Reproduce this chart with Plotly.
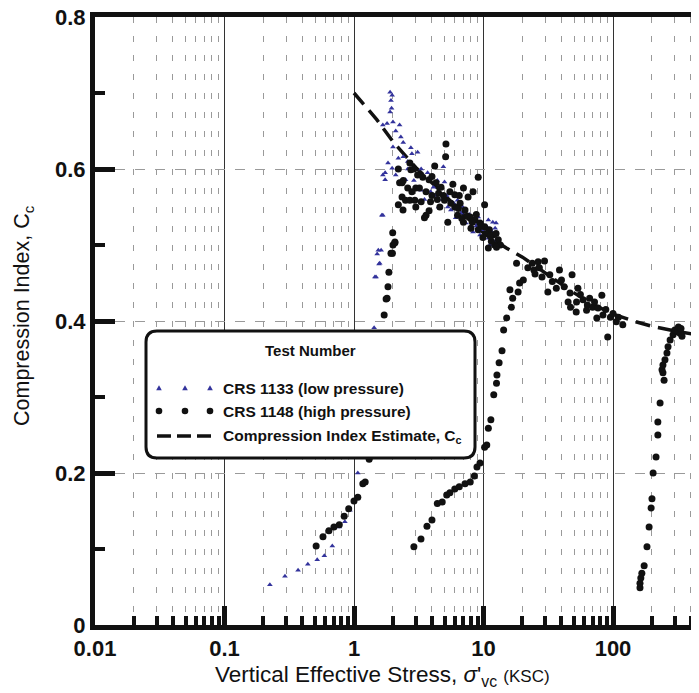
import plotly.graph_objects as go

# ---------------- data ----------------
# CRS 1133 (low pressure) - triangles
crs1133_x = [0.224, 0.293, 0.37, 0.44, 0.52, 0.59, 0.68, 0.77, 0.85, 0.93, 1.07,
             1.15, 1.25, 1.33,
             1.43, 1.48, 1.51, 1.56, 1.62, 1.64, 1.67, 1.74, 1.83, 1.67, 1.74,
             1.67, 1.90, 1.93, 1.90, 1.97, 2.0, 2.25, 2.3, 2.0, 2.75, 3.1, 2.2,
             2.1, 2.4, 2.5, 3.7, 4.1, 3.3, 5.0, 3.9, 4.5, 5.6, 6.1, 6.7, 7.3,
             8.3, 9.4, 10.9, 12.3, 11.9, 12.5, 4.9, 6.3, 9.1, 10.2, 10.9,
             1.97, 2.6, 2.9, 3.5, 4.2, 4.8, 5.3, 7.0, 7.8, 8.8, 11.5, 12.8,
             11.2, 9.8, 1.54, 1.58, 1.45,
             2.1, 2.4, 2.6, 2.8, 3.3, 1.8, 1.95, 4.4, 5.2, 5.9, 6.9, 8.0, 9.0,
             10.5, 11.8, 12.0]
crs1133_y = [0.053, 0.064, 0.072, 0.080, 0.086, 0.091, 0.104, 0.129, 0.136, 0.151, 0.200,
             0.24, 0.29, 0.34,
             0.391, 0.458, 0.488, 0.475, 0.493, 0.539, 0.539, 0.595, 0.608, 0.592, 0.586,
             0.658, 0.675, 0.690, 0.701, 0.697, 0.662, 0.658, 0.642, 0.629, 0.628, 0.622, 0.614,
             0.592, 0.616, 0.586, 0.595, 0.576, 0.572, 0.583, 0.570, 0.550, 0.546, 0.536, 0.542, 0.529,
             0.517, 0.513, 0.533, 0.522, 0.513, 0.529, 0.603, 0.559, 0.537, 0.513, 0.509,
             0.601, 0.600, 0.585, 0.560, 0.565, 0.560, 0.550, 0.545, 0.540, 0.525, 0.518, 0.505,
             0.500, 0.520, 0.493, 0.476, 0.458,
             0.650, 0.635, 0.610, 0.620, 0.600, 0.660, 0.680, 0.585, 0.565, 0.555, 0.550, 0.530, 0.528,
             0.525, 0.530, 0.505]

# CRS 1148 (high pressure) - dots
crs1148_x = [0.51, 0.576, 0.64, 0.70, 0.77, 0.84, 0.91, 1.0, 1.07, 1.17, 1.22, 1.31,
             1.4, 1.5, 1.6,
             1.71, 1.77, 1.80, 1.83, 1.86, 1.93, 1.98, 2.0, 2.07, 1.99, 2.07, 2.39, 2.35,
             2.2, 2.25, 2.35,
             5.13, 5.1, 4.2, 2.70, 2.75, 3.1, 3.4, 3.8, 4.3, 4.7, 5.5, 6.0, 7.0, 8.3, 9.1,
             2.5, 2.7, 2.95, 3.3, 3.6, 3.5, 4.5, 5.0, 6.0, 6.6, 7.2, 7.9, 8.6, 9.4, 10.2,
             11.1, 11.9, 13.0, 10.2, 5.3, 7.6, 4.6, 3.9, 6.3, 7.0, 8.0, 9.1, 3.0, 2.9,
             12.2, 13.5, 11.5, 12.6, 10.9,
             2.6, 2.8, 3.2, 3.6, 4.0, 4.4, 4.9, 5.6, 6.4, 6.8, 7.5, 8.2, 8.8, 9.6, 10.5,
             11.3, 12.5, 3.0, 3.8, 2.4, 2.2, 4.0, 5.8, 6.5, 9.9,
             2.9, 3.29, 3.66, 4.0, 4.4, 4.8, 5.2, 5.5, 6.0, 6.5, 7.2, 7.9, 8.5, 8.9, 9.4,
             10.2, 10.6, 10.9, 11.4, 12.0, 12.6, 12.7, 13.2, 13.9, 14.3, 15.1, 16.4, 16.8,
             16.0, 18.5, 19.0, 20.3, 18.0, 23.8, 26.4, 29.6, 24.5, 28.3, 32.5, 38.6, 40.0,
             31.4, 36.5, 48.3, 46.6, 53.6, 45.0, 52.3, 58.7, 63.4, 69.6, 62.5, 76.6, 82.0,
             83.6, 75.0, 95.5, 106, 119, 91.0, 52.0, 47.0, 22.0, 25.0, 27.0, 34.0, 42.0,
             56.0, 66.0, 72.0, 88.0, 100, 110,
             161.6, 161.6, 164, 167, 174, 183, 190, 197, 200, 204, 215, 222, 222, 231,
             248, 243, 239, 243, 252, 261, 266, 276, 291, 312, 329, 341, 300, 320, 335]
crs1148_y = [0.104, 0.116, 0.124, 0.129, 0.132, 0.143, 0.153, 0.163, 0.168, 0.186, 0.188, 0.218,
             0.26, 0.31, 0.36,
             0.408, 0.429, 0.430, 0.445, 0.464, 0.489, 0.489, 0.500, 0.503, 0.516, 0.504, 0.546, 0.563,
             0.553, 0.582, 0.582,
             0.633, 0.616, 0.604, 0.608, 0.599, 0.592, 0.589, 0.586, 0.582, 0.576, 0.570, 0.566, 0.575, 0.570, 0.589,
             0.559, 0.559, 0.559, 0.557, 0.539, 0.536, 0.568, 0.559, 0.550, 0.555, 0.546, 0.537, 0.533, 0.529, 0.524,
             0.520, 0.513, 0.507, 0.553, 0.530, 0.563, 0.550, 0.557, 0.539, 0.530, 0.522, 0.520, 0.575, 0.600,
             0.500, 0.500, 0.505, 0.497, 0.496,
             0.575, 0.570, 0.575, 0.570, 0.565, 0.560, 0.565, 0.555, 0.548, 0.535, 0.538, 0.530, 0.540, 0.525, 0.515,
             0.512, 0.515, 0.550, 0.545, 0.585, 0.600, 0.590, 0.580, 0.565, 0.510,
             0.103, 0.113, 0.130, 0.138, 0.160, 0.162, 0.171, 0.174, 0.179, 0.182, 0.186, 0.188, 0.196, 0.208, 0.213,
             0.234, 0.237, 0.259, 0.270, 0.303, 0.318, 0.329, 0.345, 0.361, 0.388, 0.404, 0.418, 0.430,
             0.441, 0.438, 0.450, 0.454, 0.476, 0.476, 0.478, 0.479, 0.467, 0.458, 0.461, 0.467, 0.454,
             0.438, 0.443, 0.461, 0.437, 0.443, 0.425, 0.425, 0.428, 0.421, 0.418, 0.414, 0.417, 0.434,
             0.408, 0.404, 0.405, 0.399, 0.395, 0.379, 0.412, 0.418, 0.470, 0.462, 0.470, 0.452, 0.445,
             0.435, 0.430, 0.425, 0.415, 0.410, 0.405,
             0.049, 0.055, 0.062, 0.068, 0.078, 0.103, 0.129, 0.154, 0.166, 0.200, 0.221, 0.250, 0.267, 0.292,
             0.322, 0.332, 0.336, 0.342, 0.349, 0.358, 0.366, 0.375, 0.382, 0.386, 0.384, 0.380, 0.388, 0.392, 0.390]

# Compression index estimate
est_x = [1, 1.5, 2, 3, 5, 7, 10, 15, 20, 30, 50, 70, 100, 150, 200, 300, 470]
est_y = [0.700, 0.665, 0.636, 0.602, 0.566, 0.540, 0.516, 0.496, 0.484, 0.463, 0.437,
         0.422, 0.409, 0.399, 0.393, 0.387, 0.381]

x_tick_vals = [0.01, 0.1, 1, 10, 100]
x_tick_text = ["0.01", "0.1", "1", "10", "100"]
y_tick_vals = [0, 0.2, 0.4, 0.6, 0.8]
y_tick_text = ["0", "0.2", "0.4", "0.6", "0.8"]
x_minor_vals = [m * d for d in [0.01, 0.1, 1, 10, 100] for m in range(2, 10)]

x_title = ("Vertical Effective Stress, <i>σ</i>'<sub>vc</sub> "
           "<span style='font-size:17px'>(KSC)</span>")
y_title = "Compression Index, C<sub>c</sub>"
legend_title = "Test Number"
legend_labels = ["CRS 1133 (low pressure)", "CRS 1148 (high pressure)",
                 "Compression Index Estimate, C<sub>c</sub>"]

# ---------------- figure ----------------
OFF = 8                      # page body margin of the browser
W, H = 699 - OFF, 693 - OFF
ML, MT = 95 - OFF, 17 - OFF
PW, PH = 604, 608
MR = W - ML - PW
MB = H - MT - PH

FONT = "Liberation Sans, Arial, sans-serif"
TRI_COLOR = "#33339c"
DOT_COLOR = "#111111"

fig = go.Figure()
fig.add_trace(go.Scatter(x=est_x, y=est_y, mode="lines", name="estimate",
                         line=dict(color="#111111", width=3.5, dash="15px,8px"),
                         showlegend=False))
fig.add_trace(go.Scatter(x=crs1133_x, y=crs1133_y, mode="markers", name="CRS 1133",
                         marker=dict(symbol="triangle-up", size=5, color=TRI_COLOR),
                         showlegend=False))
fig.add_trace(go.Scatter(x=crs1148_x, y=crs1148_y, mode="markers", name="CRS 1148",
                         marker=dict(symbol="circle", size=7, color=DOT_COLOR),
                         showlegend=False))


def px2p(px, py):
    """reference-image pixel -> paper coordinates"""
    return (px - 95) / PW, (625 - py) / PH


def P(px, py):
    a, b = px2p(px, py)
    return f"{a:.5f},{b:.5f}"


# custom legend box with rounded corners
bx0, by0, bx1, by1, r = 146, 331, 475, 458, 11
path = (f"M {P(bx0 + r, by0)} L {P(bx1 - r, by0)} Q {P(bx1, by0)} {P(bx1, by0 + r)} "
        f"L {P(bx1, by1 - r)} Q {P(bx1, by1)} {P(bx1 - r, by1)} "
        f"L {P(bx0 + r, by1)} Q {P(bx0, by1)} {P(bx0, by1 - r)} "
        f"L {P(bx0, by0 + r)} Q {P(bx0, by0)} {P(bx0 + r, by0)} Z")
shapes = [dict(type="path", xref="paper", yref="paper", path=path, layer="above",
               fillcolor="white", line=dict(color="#111111", width=3))]

row_y = [388, 411, 436]
sym_x = [159, 185, 210]
for sx in sym_x:
    s = 2.8
    shapes.append(dict(type="path", xref="paper", yref="paper", layer="above",
                       path=f"M {P(sx, row_y[0] - s)} L {P(sx + s, row_y[0] + s * 0.8)} "
                            f"L {P(sx - s, row_y[0] + s * 0.8)} Z",
                       fillcolor=TRI_COLOR, line=dict(width=0)))
    a0, b0 = px2p(sx - 3.3, row_y[1] + 3.3)
    a1, b1 = px2p(sx + 3.3, row_y[1] - 3.3)
    shapes.append(dict(type="circle", xref="paper", yref="paper", layer="above",
                       x0=a0, y0=b0, x1=a1, y1=b1, fillcolor=DOT_COLOR, line=dict(width=0)))
a0, b0 = px2p(157, row_y[2])
a1, b1 = px2p(213, row_y[2])
shapes.append(dict(type="line", xref="paper", yref="paper", layer="above",
                   x0=a0, y0=b0, x1=a1, y1=b1,
                   line=dict(color="#111111", width=3.5, dash="14px,6px")))

annotations = []
tx, ty = px2p((bx0 + bx1) / 2, 350)
annotations.append(dict(xref="paper", yref="paper", x=tx, y=ty, text=f"<b>{legend_title}</b>",
                        showarrow=False, xanchor="center", yanchor="middle",
                        font=dict(family=FONT, size=15, color="#111111")))
for lbl, ry in zip(legend_labels, row_y):
    lx, ly = px2p(221, ry)
    annotations.append(dict(xref="paper", yref="paper", x=lx, y=ly, text=f"<b>{lbl}</b>",
                            showarrow=False, xanchor="left", yanchor="middle",
                            font=dict(family=FONT, size=15.5, color="#111111")))

# axis titles
ax, ay = px2p(382, 676)
annotations.append(dict(xref="paper", yref="paper", x=ax, y=ay, text=x_title,
                        showarrow=False, xanchor="center", yanchor="middle",
                        font=dict(family=FONT, size=22.5, color="#111111")))
ax, ay = px2p(23, 316)
annotations.append(dict(xref="paper", yref="paper", x=ax, y=ay, text=y_title,
                        showarrow=False, xanchor="center", yanchor="middle", textangle=-90,
                        font=dict(family=FONT, size=21.5, color="#111111")))

fig.update_layout(
    width=W, height=H,
    margin=dict(l=ML, r=MR, t=MT, b=MB, autoexpand=False),
    paper_bgcolor="white", plot_bgcolor="white",
    font=dict(family=FONT, color="#111111"),
    shapes=shapes, annotations=annotations,
    showlegend=False,
)

fig.update_xaxes(
    type="log", range=[-2, -2 + PW / 129.5],
    tickvals=x_tick_vals, ticktext=x_tick_text,
    ticks="inside", ticklen=19, tickwidth=5, tickcolor="#111111",
    tickfont=dict(family=FONT, size=22, color="#111111", weight="bold"),
    ticklabeloverflow="allow",
    showline=True, linewidth=5, linecolor="#111111", mirror=True,
    showgrid=True, gridcolor="#333333", gridwidth=1,
    minor=dict(tickvals=x_minor_vals, ticks="inside", ticklen=9, tickwidth=4,
               tickcolor="#111111", showgrid=True, gridcolor="#9a9a9a",
               gridwidth=1, griddash="6px,13px"),
    zeroline=False,
)
fig.update_yaxes(
    range=[0, 0.8],
    tickvals=y_tick_vals, ticktext=y_tick_text,
    ticks="inside", ticklen=20, tickwidth=5, tickcolor="#111111",
    tickfont=dict(family=FONT, size=22, color="#111111", weight="bold"),
    ticklabeloverflow="allow",
    showline=True, linewidth=5, linecolor="#111111", mirror=False,
    showgrid=True, gridcolor="#9a9a9a", gridwidth=1, griddash="10px,10px",
    minor=dict(dtick=0.1, ticks="inside", ticklen=10, tickwidth=4, tickcolor="#111111",
               showgrid=False),
    zeroline=False,
)

fig.write_html("out.html")
